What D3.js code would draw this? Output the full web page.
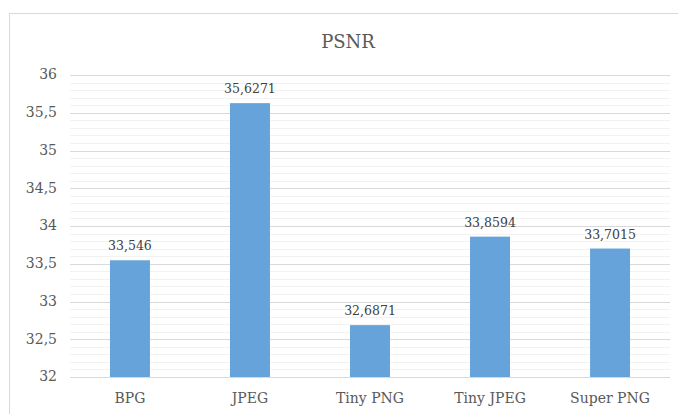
<!DOCTYPE html>
<html><head><meta charset="utf-8">
<script src="https://cdn.jsdelivr.net/npm/d3@7"></script>
<style>body{margin:0;background:#fff}svg{display:block}</style>
</head><body>
<svg id="c" width="678" height="414"></svg>
<script>
const categories = ["BPG", "JPEG", "Tiny PNG", "Tiny JPEG", "Super PNG"];
const values = [33.546, 35.6271, 32.6871, 33.8594, 33.7015];
const valueLabels = ["33,546", "35,6271", "32,6871", "33,8594", "33,7015"];
const yTicks = [32, 32.5, 33, 33.5, 34, 34.5, 35, 35.5, 36];
const yTickLabels = ["32", "32,5", "33", "33,5", "34", "34,5", "35", "35,5", "36"];
const minorTicks = d3.range(321, 361).map(d => d / 10);

const svg = d3.select("#c");
const font = "'DejaVu Serif', serif";
svg.append("rect").attr("x", 9.5).attr("y", 13.5).attr("width", 690).attr("height", 420)
  .attr("fill", "#fff").attr("stroke", "#d9d9d9");

const x = d3.scaleBand().domain(categories).range([70, 670]).paddingInner(0.667).paddingOuter(0.333);
const y = d3.scaleLinear().domain([32, 36]).range([377, 75]);

svg.append("g").selectAll("line").data(minorTicks).join("line")
  .attr("x1", 70).attr("x2", 670)
  .attr("y1", d => Math.round(y(d)) + 0.5).attr("y2", d => Math.round(y(d)) + 0.5)
  .attr("stroke", "#f2f2f2");
svg.append("g").selectAll("line").data(yTicks).join("line")
  .attr("x1", 70).attr("x2", 670)
  .attr("y1", d => Math.round(y(d)) + 0.5).attr("y2", d => Math.round(y(d)) + 0.5)
  .attr("stroke", "#d9d9d9");

svg.append("g").selectAll("text").data(yTicks).join("text")
  .attr("x", 57).attr("y", d => y(d)).attr("dy", "0.32em")
  .attr("text-anchor", "end").attr("font-family", font).attr("font-size", 14)
  .attr("fill", "#595959").text((d, i) => yTickLabels[i]);

svg.append("g").selectAll("rect").data(values).join("rect")
  .attr("x", (d, i) => x(categories[i])).attr("width", x.bandwidth())
  .attr("y", d => y(d)).attr("height", d => y(32) - y(d))
  .attr("fill", "#65a3da");

svg.append("g").selectAll("text").data(values).join("text")
  .attr("x", (d, i) => x(categories[i]) + x.bandwidth() / 2).attr("y", d => y(d) - 10)
  .attr("text-anchor", "middle").attr("font-family", font).attr("font-size", 12.5)
  .attr("fill", "#404040").text((d, i) => valueLabels[i]);

svg.append("g").selectAll("text").data(categories).join("text")
  .attr("x", d => x(d) + x.bandwidth() / 2).attr("y", 403)
  .attr("text-anchor", "middle").attr("font-family", font).attr("font-size", 14)
  .attr("fill", "#595959").text(d => d);

svg.append("text").attr("x", 348).attr("y", 48).attr("text-anchor", "middle")
  .attr("font-family", font).attr("font-size", 18).attr("fill", "#595959").text("PSNR");
</script>
</body></html>
